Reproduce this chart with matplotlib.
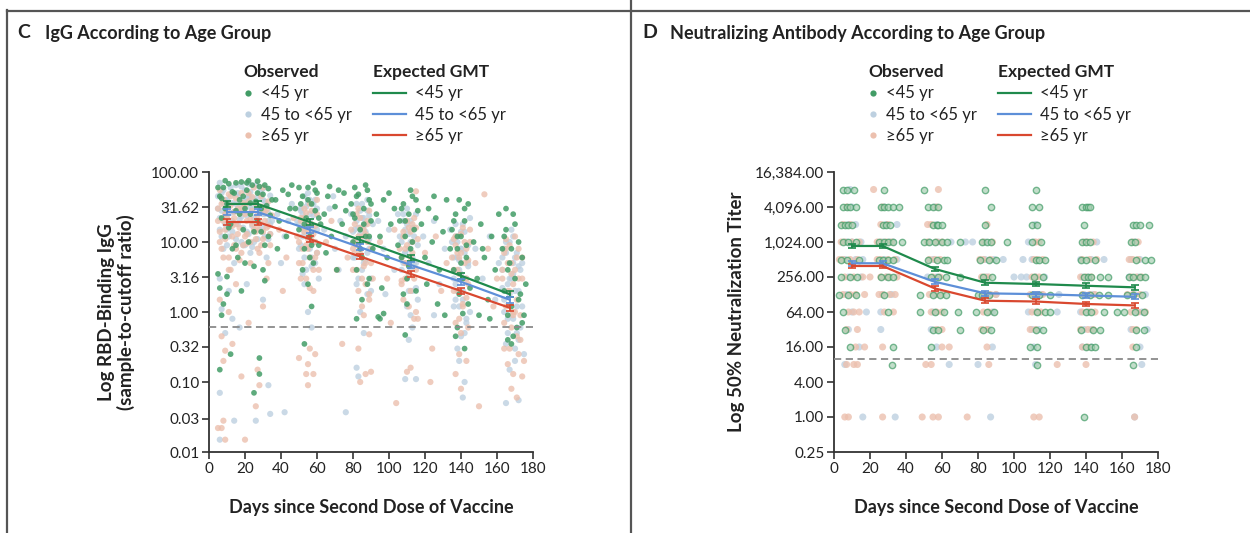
import matplotlib
matplotlib.use("Agg")
import matplotlib.pyplot as plt
from matplotlib.lines import Line2D
from matplotlib.ticker import FixedLocator, NullLocator, FixedFormatter

plt.rcParams['font.family'] = ['Lato', 'DejaVu Sans']

# ---------------- data: panel C (IgG) ----------------
groups = ["<45 yr", "45 to <65 yr", "\u226565 yr"]
gmt_days = [10, 27, 56, 84, 112, 140, 167]
c_gmt_young = [35, 35, 19.3, 10.7, 5.9, 3.3, 1.8]
c_gmt_mid = [26.8, 26.8, 15, 8.4, 4.7, 2.7, 1.5]
c_gmt_old = [19.3, 19.3, 11, 6.2, 3.5, 2.0, 1.15]

c_young_days = [6, 7, 8, 9, 10, 11, 12, 13, 14, 15, 16, 17, 18, 19, 20, 21, 22, 23, 24, 25, 26, 27, 28, 29, 30, 31, 32, 33, 34,
                6, 8, 12, 7, 28, 28, 25, 6, 10, 20, 31, 15, 22, 9, 27,
                48, 50, 52, 53, 54, 55, 56, 57, 58, 59, 60, 61, 62, 53, 55, 57, 50, 58,
                37, 39, 41, 43, 45, 46, 38, 44,
                64, 66, 68, 70, 72, 74, 76, 65, 71, 75, 67,
                79, 80, 81, 82, 83, 84, 85, 86, 87, 88, 89, 90, 91, 85, 82, 89, 87, 95,
                93, 95, 97, 99, 101, 103, 105, 96, 100, 94, 97,
                106, 107, 108, 109, 110, 111, 112, 113, 114, 115, 116, 110, 109,
                118, 120, 122, 124, 126, 128, 130, 132, 134, 121, 127, 131, 125,
                135, 136, 137, 138, 139, 140, 141, 142, 143, 144, 145, 138, 141, 137, 142,
                147, 149, 151, 153, 155, 157, 159, 161, 150, 156, 152,
                163, 164, 165, 166, 167, 168, 169, 170, 171, 172, 173, 174, 175, 166, 169, 176, 168,
                5, 7, 9, 11, 13, 15, 17, 19, 21, 23, 25, 27, 29, 31, 33, 35, 5, 10, 18, 30,
                51, 53, 55, 57, 59, 61, 52, 56,
                80, 82, 84, 86, 88, 90, 81, 89,
                107, 109, 111, 113, 115, 108, 112,
                136, 138, 140, 142, 144, 139, 143,
                164, 166, 168, 170, 172, 174, 165]
c_young_vals = [45, 22, 60, 12, 35, 68, 18, 8, 50, 28, 6, 40, 72, 15, 30, 55, 10, 25, 65, 4.5, 38, 20, 62, 14, 48, 9, 33, 58, 24,
                2.2, 1.3, 0.25, 0.9, 0.22, 0.13, 0.07, 0.15, 3.2, 5, 2.8, 70, 75, 75, 74,
                30, 15, 45, 8, 22, 60, 12, 35, 5, 28, 50, 9, 18, 0.35, 2.5, 1.2, 60, 70,
                40, 20, 55, 12, 30, 65, 8, 48,
                25, 45, 12, 32, 55, 18, 28, 7, 4, 50, 62,
                35, 10, 22, 4, 48, 15, 6, 30, 12, 55, 3, 20, 8, 1.5, 0.8, 40, 65, 0.8,
                25, 12, 40, 6, 18, 30, 9, 2.2, 50, 0.85, 0.95,
                20, 6, 35, 12, 3, 25, 8, 45, 15, 2, 28, 1.3, 0.47,
                18, 6, 30, 10, 22, 4, 14, 40, 8, 2.5, 1.3, 0.9, 45,
                15, 4, 25, 8, 1.8, 12, 3, 20, 6, 35, 2.2, 0.6, 0.95, 0.45, 0.3,
                10, 3, 18, 6, 1.5, 12, 4, 25, 0.9, 0.8, 8,
                8, 2, 15, 0.9, 5, 1.2, 25, 3, 0.6, 10, 1.8, 6, 0.9, 0.4, 0.45, 2.5, 0.35,
                60, 42, 30, 16, 52, 9, 25, 45, 70, 36, 14, 50, 30, 65, 12, 40, 3.5, 1.8, 2, 4,
                35, 18, 40, 9, 55, 22, 4, 6,
                25, 45, 8, 18, 2.5, 35, 60, 12,
                30, 20, 4.5, 10, 40, 1.8, 55,
                20, 12, 5, 30, 1.3, 40, 9,
                12, 4, 8, 18, 1.5, 0.7, 30]

c_mid_days = [5, 6, 7, 8, 9, 10, 11, 12, 13, 14, 15, 16, 17, 18, 19, 20, 21, 22, 23, 24, 25, 26, 27, 28, 29, 30, 31, 32, 33, 34, 35,
              6, 7, 9, 11, 13, 6, 6, 14, 26, 34, 33, 30, 21, 17, 10, 18, 24, 14, 22, 8, 30, 20,
              38, 42, 46, 40, 44,
              49, 50, 51, 52, 53, 54, 55, 56, 57, 58, 59, 60, 61, 55, 57, 53, 56, 59, 42, 76,
              64, 67, 70, 73, 76, 69, 72,
              79, 80, 81, 82, 83, 84, 85, 86, 87, 88, 89, 90, 91, 84, 86, 83, 82, 88,
              94, 97, 100, 103, 105, 98,
              106, 107, 108, 109, 110, 111, 112, 113, 114, 115, 116, 111, 113, 115, 109,
              119, 122, 125, 128, 131, 134, 125,
              135, 136, 137, 138, 139, 140, 141, 142, 143, 144, 145, 138, 140, 142, 141, 139, 137,
              148, 152, 156, 159, 161,
              163, 164, 165, 166, 167, 168, 169, 170, 171, 172, 173, 174, 175, 165, 172, 170, 167, 163, 169,
              5, 6, 7, 8, 9, 10, 11, 12, 13, 14, 15, 16, 17, 18, 19, 20, 21, 22, 23, 24, 25, 26, 27, 28, 29,
              30, 31, 32, 33, 34, 7, 9, 12, 15, 18, 21, 24, 27, 30, 33, 6, 10, 13, 16, 19, 22, 25, 28, 31, 34,
              50, 51, 52, 53, 54, 55, 56, 57, 58, 59, 60, 51, 53, 55, 57, 59, 52, 54, 56, 58, 60, 55, 53,
              80, 81, 82, 83, 84, 85, 86, 87, 88, 89, 90, 81, 83, 85, 87, 89, 82, 84, 86, 88, 84, 86,
              107, 108, 109, 110, 111, 112, 113, 114, 115, 116, 108, 110, 112, 114, 109, 111, 113, 115, 110, 112,
              136, 137, 138, 139, 140, 141, 142, 143, 144, 145, 137, 139, 141, 143, 138, 140, 142, 144, 136, 140,
              163, 164, 165, 166, 167, 168, 169, 170, 171, 172, 173, 174, 165, 167, 169, 171, 164, 168, 170, 172, 166]
c_mid_vals = [30, 15, 50, 8, 25, 40, 12, 60, 20, 5, 35, 18, 45, 10, 28, 55, 14, 32, 7, 42, 22, 65, 11, 30, 48, 16, 38, 6, 26, 13, 20,
              3, 1.1, 0.5, 2, 0.8, 0.07, 0.015, 0.028, 0.028, 0.035, 0.09, 1.5, 2.5, 0.6, 22, 33, 17, 27, 45, 36, 25, 9,
              25, 12, 35, 5, 20,
              20, 8, 30, 12, 45, 4, 18, 25, 6, 35, 10, 15, 3, 1, 0.6, 22, 40, 28, 0.037, 0.037,
              15, 30, 8, 20, 12, 45, 4,
              25, 6, 15, 35, 3, 10, 22, 5, 14, 40, 8, 2, 18, 1, 0.5, 0.12, 0.16, 28,
              20, 8, 15, 4, 25, 1.8,
              12, 4, 20, 7, 30, 2, 10, 16, 5, 25, 1.5, 0.4, 0.6, 0.11, 0.11,
              12, 5, 20, 2.5, 8, 15, 0.9,
              10, 3, 18, 6, 1.2, 8, 2, 14, 0.8, 5, 22, 0.3, 0.45, 0.1, 0.06, 0.2, 1.5,
              8, 3, 12, 1.5, 5,
              6, 1, 10, 0.5, 3, 15, 0.8, 2, 7, 0.4, 4, 1.2, 0.25, 0.05, 0.055, 0.2, 0.15, 2.2, 5,
              45, 22, 12, 55, 18, 9, 35, 26, 14, 48, 11, 30, 21, 62, 16, 38, 24, 13, 52, 29, 10, 19, 43, 15, 27,
              58, 12, 34, 20, 46, 28, 40, 17, 65, 23, 42, 8.5, 31, 40, 11, 70, 15, 36, 50, 9, 68, 33, 52, 25, 18,
              18, 9, 25, 6, 32, 12, 20, 4.5, 15, 40, 7, 28, 14, 36, 10, 5, 3.5, 17, 8, 24, 30, 50, 2.5,
              14, 6, 20, 9, 28, 4, 12, 18, 7, 24, 3, 10, 16, 35, 5.5, 11, 2.5, 8, 22, 1.8, 13, 17,
              10, 5, 15, 3, 8, 20, 6, 12, 2.2, 9, 25, 1.2, 4, 16, 7, 13, 2, 5, 18, 0.9,
              6, 2.5, 10, 4, 14, 1.5, 7, 3, 9, 1, 12, 5.5, 18, 0.7, 2, 3.5, 0.5, 4.5, 1.2, 8,
              4, 1.5, 7, 2.5, 10, 0.9, 3.5, 6, 1.2, 2, 0.6, 5, 0.35, 1.8, 12, 0.5, 8, 3, 0.3, 4.5, 0.8]

c_old_days = [5, 6, 7, 8, 9, 10, 11, 12, 13, 14, 15, 16, 17, 18, 19, 20, 21, 22, 23, 24, 25, 26, 27, 28, 29, 30, 31, 32, 33, 34,
              6, 7, 8, 9, 5, 7, 9, 20, 13, 26, 27, 28, 18, 11, 15, 22, 30, 8,
              39, 43, 47, 41,
              49, 50, 51, 52, 53, 54, 55, 56, 57, 58, 59, 60, 61, 50, 54, 55, 56, 58, 59, 55,
              65, 68, 71, 74, 77,
              79, 80, 81, 82, 83, 84, 85, 86, 87, 88, 89, 90, 91, 84, 87, 90, 83, 89,
              95, 99, 103, 101, 104,
              106, 107, 108, 109, 110, 111, 112, 113, 114, 115, 116, 110, 112, 115,
              120, 123, 126, 129, 132, 124,
              135, 136, 137, 138, 139, 140, 141, 142, 143, 144, 145, 137, 140, 139, 143,
              148, 150, 153, 155, 158, 160,
              163, 164, 165, 166, 167, 168, 169, 170, 171, 172, 173, 174, 175, 168, 171, 169, 174, 166,
              5, 6, 7, 8, 9, 10, 11, 12, 13, 14, 15, 16, 17, 18, 19, 20, 21, 22, 23, 24, 25, 26, 27, 28, 29,
              30, 31, 32, 33, 34, 35, 6, 9, 12, 15, 18, 21, 24, 27, 30, 33, 8, 11, 14, 17, 20, 23, 26, 29, 32,
              50, 51, 52, 53, 54, 55, 56, 57, 58, 59, 60, 51, 53, 55, 57, 59, 52, 54, 56, 58, 60, 55,
              80, 81, 82, 83, 84, 85, 86, 87, 88, 89, 90, 81, 83, 85, 87, 89, 82, 84, 86, 88, 85,
              107, 108, 109, 110, 111, 112, 113, 114, 115, 116, 108, 110, 112, 114, 109, 111, 113, 115, 107,
              136, 137, 138, 139, 140, 141, 142, 143, 144, 145, 137, 139, 141, 143, 138, 140, 142, 144, 136,
              163, 164, 165, 166, 167, 168, 169, 170, 171, 172, 173, 174, 165, 167, 169, 171, 164, 168, 170, 172]
c_old_vals = [20, 10, 35, 6, 15, 28, 4, 45, 12, 22, 8, 30, 16, 50, 9, 25, 13, 38, 5, 18, 60, 11, 24, 7, 32, 14, 20, 3, 17, 9,
              1.5, 0.45, 0.2, 0.28, 0.022, 0.022, 0.015, 0.015, 0.35, 0.045, 0.15, 0.09, 0.12, 1, 2.5, 0.7, 1.2, 0.028,
              15, 6, 22, 2,
              12, 5, 22, 8, 30, 3, 15, 6, 18, 2, 10, 25, 4, 0.22, 0.13, 0.18, 0.3, 0.13, 0.25, 0.09,
              10, 20, 4, 0.35, 6,
              15, 4, 10, 25, 2, 7, 12, 0.9, 5, 18, 1.5, 8, 3, 0.1, 0.13, 0.14, 0.3, 0.48,
              10, 3, 15, 0.7, 0.05,
              8, 2.5, 14, 5, 20, 1.2, 6, 10, 3, 16, 0.8, 0.14, 0.16, 53,
              7, 0.1, 12, 2, 5, 0.3,
              6, 2, 12, 4, 0.8, 7, 1.3, 10, 3, 0.6, 15, 0.13, 0.08, 0.25, 0.2,
              5, 0.045, 48, 8, 1.2, 3,
              4, 0.7, 8, 2, 0.3, 5, 1, 12, 0.45, 3, 0.9, 6, 0.2, 0.08, 0.06, 0.13, 0.12, 0.18,
              30, 14, 8, 40, 11, 22, 6, 33, 17, 9, 42, 13, 26, 7, 36, 12, 20, 50, 10, 28, 15, 35, 8, 19, 45,
              11, 27, 16, 38, 13, 24, 55, 25, 4, 18, 30, 9.5, 44, 16, 60, 5, 20, 48, 27, 5.5, 33, 21, 14, 9, 29,
              10, 20, 5, 14, 26, 8, 35, 12, 4, 17, 7, 3, 22, 11, 28, 6, 16, 9, 2.2, 13, 40, 19,
              8, 18, 4, 12, 22, 6, 15, 2.5, 10, 28, 5, 7, 30, 3, 13, 1.8, 9, 16, 4.5, 20, 1.2,
              6, 12, 3, 9, 16, 2, 7, 22, 4, 11, 1.5, 5, 14, 0.8, 8, 3.5, 18, 1, 2.8,
              4, 9, 2, 6, 13, 1.2, 5, 8, 2.5, 10, 0.7, 3.5, 16, 1.6, 7, 0.5, 3, 5.5, 11,
              3, 7, 1.2, 5, 9, 0.6, 2.5, 4, 1.5, 8, 0.4, 3, 11, 2, 0.9, 6, 0.3, 3.5, 1, 0.25]

c_ticks = [0.01, 0.03, 0.10, 0.32, 1.00, 3.16, 10.00, 31.62, 100.00]
c_ticklabels = ["0.01", "0.03", "0.10", "0.32", "1.00", "3.16", "10.00", "31.62", "100.00"]
c_lod = 0.62

# ---------------- data: panel D (neutralizing) ----------------
d_gmt_young = [875, 875, 352, 204, 194, 181, 170]
d_gmt_mid = [441, 441, 212, 134, 130, 123, 117]
d_gmt_old = [396, 396, 163, 100, 97, 88, 83]

d_rows = [8192, 4096, 2048, 1024, 512, 256, 128, 64, 32, 16, 8, 1]
d_young_days_by_row = [
    [5, 7, 11, 28, 50, 84, 112],
    [5, 7, 9, 12, 26, 28, 30, 33, 36, 52, 55, 58, 87, 110, 114, 138, 140, 141, 142],
    [4, 6, 8, 10, 27, 29, 31, 55, 57, 58, 60, 84, 110, 113, 139, 166, 168, 170, 175],
    [5, 8, 12, 25, 28, 30, 33, 38, 50, 53, 56, 60, 63, 70, 82, 85, 87, 96, 110, 115, 138, 140, 142, 165, 167],
    [4, 7, 14, 25, 27, 30, 33, 52, 57, 61, 63, 81, 86, 90, 112, 114, 117, 137, 140, 145, 168, 173, 176],
    [4, 9, 13, 26, 30, 33, 54, 58, 62, 70, 83, 88, 111, 116, 139, 141, 143, 148, 152, 164, 166, 170, 173],
    [3, 8, 12, 28, 48, 55, 59, 62, 80, 82, 86, 110, 114, 120, 138, 142, 147, 152, 163, 166, 171],
    [5, 30, 48, 56, 61, 69, 79, 85, 89, 113, 117, 120, 140, 143, 150, 157, 161, 167, 172],
    [6, 55, 58, 70, 83, 87, 112, 116, 137, 144, 148, 168, 172],
    [9, 33, 54, 109, 113, 140, 143, 145, 168],
    [32, 113, 166],
    [139],
]
d_mid_days_by_row = [
    [9],
    [10, 28, 56],
    [8, 12, 29, 35, 57, 112],
    [7, 10, 15, 27, 31, 33, 53, 58, 65, 73, 77, 84, 108, 111, 140, 146, 167],
    [6, 12, 16, 28, 35, 55, 84, 89, 94, 105, 110, 137, 143, 150, 165, 170],
    [8, 15, 29, 52, 57, 85, 100, 104, 107, 112, 117, 138, 141, 164, 169],
    [7, 27, 32, 56, 84, 90, 111, 115, 125, 139, 144, 167, 173],
    [10, 18, 26, 55, 88, 108, 112, 124, 137, 141, 168, 171],
    [8, 26, 54, 86, 110, 114, 139, 143, 165, 174],
    [14, 57, 88, 111, 138, 143, 170],
    [6, 64, 80, 112, 171],
    [16, 34, 87, 167],
]
d_old_days_by_row = [
    [22, 58],
    [7, 27, 57],
    [5, 9, 26, 30, 52, 54, 85],
    [4, 6, 10, 14, 24, 26, 29, 32, 52, 57, 60, 83, 88, 112, 114, 139, 141, 144, 166, 169],
    [3, 5, 9, 13, 24, 26, 30, 34, 53, 56, 59, 81, 83, 87, 111, 113, 116, 138, 142, 146, 164, 166, 169],
    [6, 11, 16, 20, 26, 29, 31, 35, 55, 59, 82, 84, 86, 110, 112, 114, 137, 140, 143, 165, 168, 171],
    [5, 9, 12, 17, 25, 27, 31, 34, 53, 57, 60, 84, 87, 90, 109, 113, 116, 138, 142, 145, 163, 166, 170],
    [8, 11, 14, 28, 33, 54, 57, 60, 83, 86, 110, 113, 115, 138, 142, 145, 165, 169, 173],
    [7, 13, 57, 60, 82, 85, 109, 112, 137, 141, 144, 166, 168],
    [12, 17, 27, 60, 64, 85, 138, 141, 166],
    [7, 11, 13, 51, 54, 86, 124, 140],
    [6, 8, 27, 49, 55, 58, 74, 111, 114, 167],
]

d_ticks = [0.25, 1, 4, 16, 64, 256, 1024, 4096, 16384]
d_ticklabels = ["0.25", "1.00", "4.00", "16.00", "64.00", "256.00", "1,024.00", "4,096.00", "16,384.00"]
d_lod = 10

x_ticks = [0, 20, 40, 60, 80, 100, 120, 140, 160, 180]


def flatten_rows(days_by_row):
    xs, ys = [], []
    for r, dl in zip(d_rows, days_by_row):
        xs += dl
        ys += [r] * len(dl)
    return xs, ys


# ---------------- styling ----------------
W, H = 1250, 533
DPI = 100
col_pt = ["#429c66", "#bdd0e0", "#ecc0ae"]
col_ln = ["#1f8a4c", "#5d8fd8", "#d9482f"]
txt = "#222222"

fig = plt.figure(figsize=(W / DPI, H / DPI), dpi=DPI)

fig.add_artist(Line2D([7 / W, 7 / W], [0, 1 - 10 / H], color="#555555", lw=1.6))
fig.add_artist(Line2D([7 / W, 1], [1 - 11 / H, 1 - 11 / H], color="#555555", lw=1.6))
fig.add_artist(Line2D([631 / W, 631 / W], [0, 1], color="#555555", lw=1.6))


def panel(left_px, letter, title, cdata, gmts, ticks, ticklabels, lod, ylabel, msize, ring, ylpad):
    ax = fig.add_axes([left_px / W, (H - 452) / H, 324 / W, 280 / H])
    ax.set_yscale("log")
    for i in [1, 2]:
        dd, vv = cdata[i]
        ax.scatter(dd, vv, s=msize, color=col_pt[i], alpha=0.8, edgecolors="none", zorder=2)
    dd, vv = cdata[0]
    if ring:
        ax.scatter(dd, vv, s=msize * 0.8, facecolor="#a9d0b4", edgecolors=col_pt[0], linewidths=1.0,
                   alpha=0.7, zorder=3)
    else:
        ax.scatter(dd, vv, s=msize * 0.85, color=col_pt[0], alpha=0.85, edgecolors="none", zorder=3)
    ax.axhline(lod, color="#8a8a8a", lw=1.3, ls=(0, (4, 2.5)), zorder=4)
    for g, c in zip(gmts, col_ln):
        err_lo = [v - v / 1.1 for v in g]
        err_hi = [v * 1.1 - v for v in g]
        ax.errorbar(gmt_days, g, yerr=[err_lo, err_hi],
                    color=c, lw=1.6, capsize=3, capthick=1.2, elinewidth=1.2, zorder=5)
    ax.set_xlim(0, 180)
    ax.set_ylim(ticks[0], ticks[-1])
    ax.yaxis.set_major_locator(FixedLocator(ticks))
    ax.yaxis.set_major_formatter(FixedFormatter(ticklabels))
    ax.yaxis.set_minor_locator(NullLocator())
    ax.set_xticks(x_ticks)
    for s in ["top", "right"]:
        ax.spines[s].set_visible(False)
    for s in ["left", "bottom"]:
        ax.spines[s].set_color("#333333")
        ax.spines[s].set_linewidth(1.3)
    ax.tick_params(axis="both", direction="out", length=5, width=1.2, color="#333333",
                   labelsize=11, labelcolor=txt, pad=2)
    ax.set_xlabel("Days since Second Dose of Vaccine", fontsize=13, fontweight="bold", color=txt, labelpad=17)
    ax.set_ylabel(ylabel, fontsize=13.5, fontweight="bold", color=txt, labelpad=ylpad, linespacing=1.1)

    x0 = left_px - 209
    fig.text((17 + x0) / W, 1 - 33 / H, letter, fontsize=14, fontweight="bold", color=txt, va="center")
    fig.text((45 + x0) / W, 1 - 33 / H, title, fontsize=13, fontweight="bold", color=txt, va="center")

    h_pts = [Line2D([], [], ls="none", marker="o", ms=4.5, color=c, mec="none") for c in col_pt]
    h_lns = [Line2D([], [], color=c, lw=1.6) for c in col_ln]
    kw = dict(frameon=False, fontsize=12, title_fontproperties={"weight": "bold", "size": 12.5},
              alignment="left", loc="upper left", bbox_transform=fig.transFigure,
              labelspacing=0.32, borderpad=0, borderaxespad=0, labelcolor=txt)
    l1 = ax.legend(h_pts, groups, title="Observed", bbox_to_anchor=((243 + x0) / W, 1 - 64 / H),
                   handlelength=0.6, handletextpad=0.5, **kw)
    ax.add_artist(l1)
    l2 = ax.legend(h_lns, groups, title="Expected GMT", bbox_to_anchor=((373 + x0) / W, 1 - 64 / H),
                   handlelength=2.0, handletextpad=0.5, **kw)
    for l in (l1, l2):
        l.get_title().set_color(txt)
        l._legend_handle_box.sep = 8
    return ax


panel(209, "C", "IgG According to Age Group",
      [(c_young_days, c_young_vals), (c_mid_days, c_mid_vals), (c_old_days, c_old_vals)],
      [c_gmt_young, c_gmt_mid, c_gmt_old], c_ticks, c_ticklabels, c_lod,
      "Log RBD-Binding IgG\n(sample-to-cutoff ratio)", 20, False, 12)

panel(834, "D", "Neutralizing Antibody According to Age Group",
      [flatten_rows(d_young_days_by_row), flatten_rows(d_mid_days_by_row), flatten_rows(d_old_days_by_row)],
      [d_gmt_young, d_gmt_mid, d_gmt_old], d_ticks, d_ticklabels, d_lod,
      "Log 50% Neutralization Titer", 26, True, 7)

fig.savefig("out.png", dpi=DPI)
